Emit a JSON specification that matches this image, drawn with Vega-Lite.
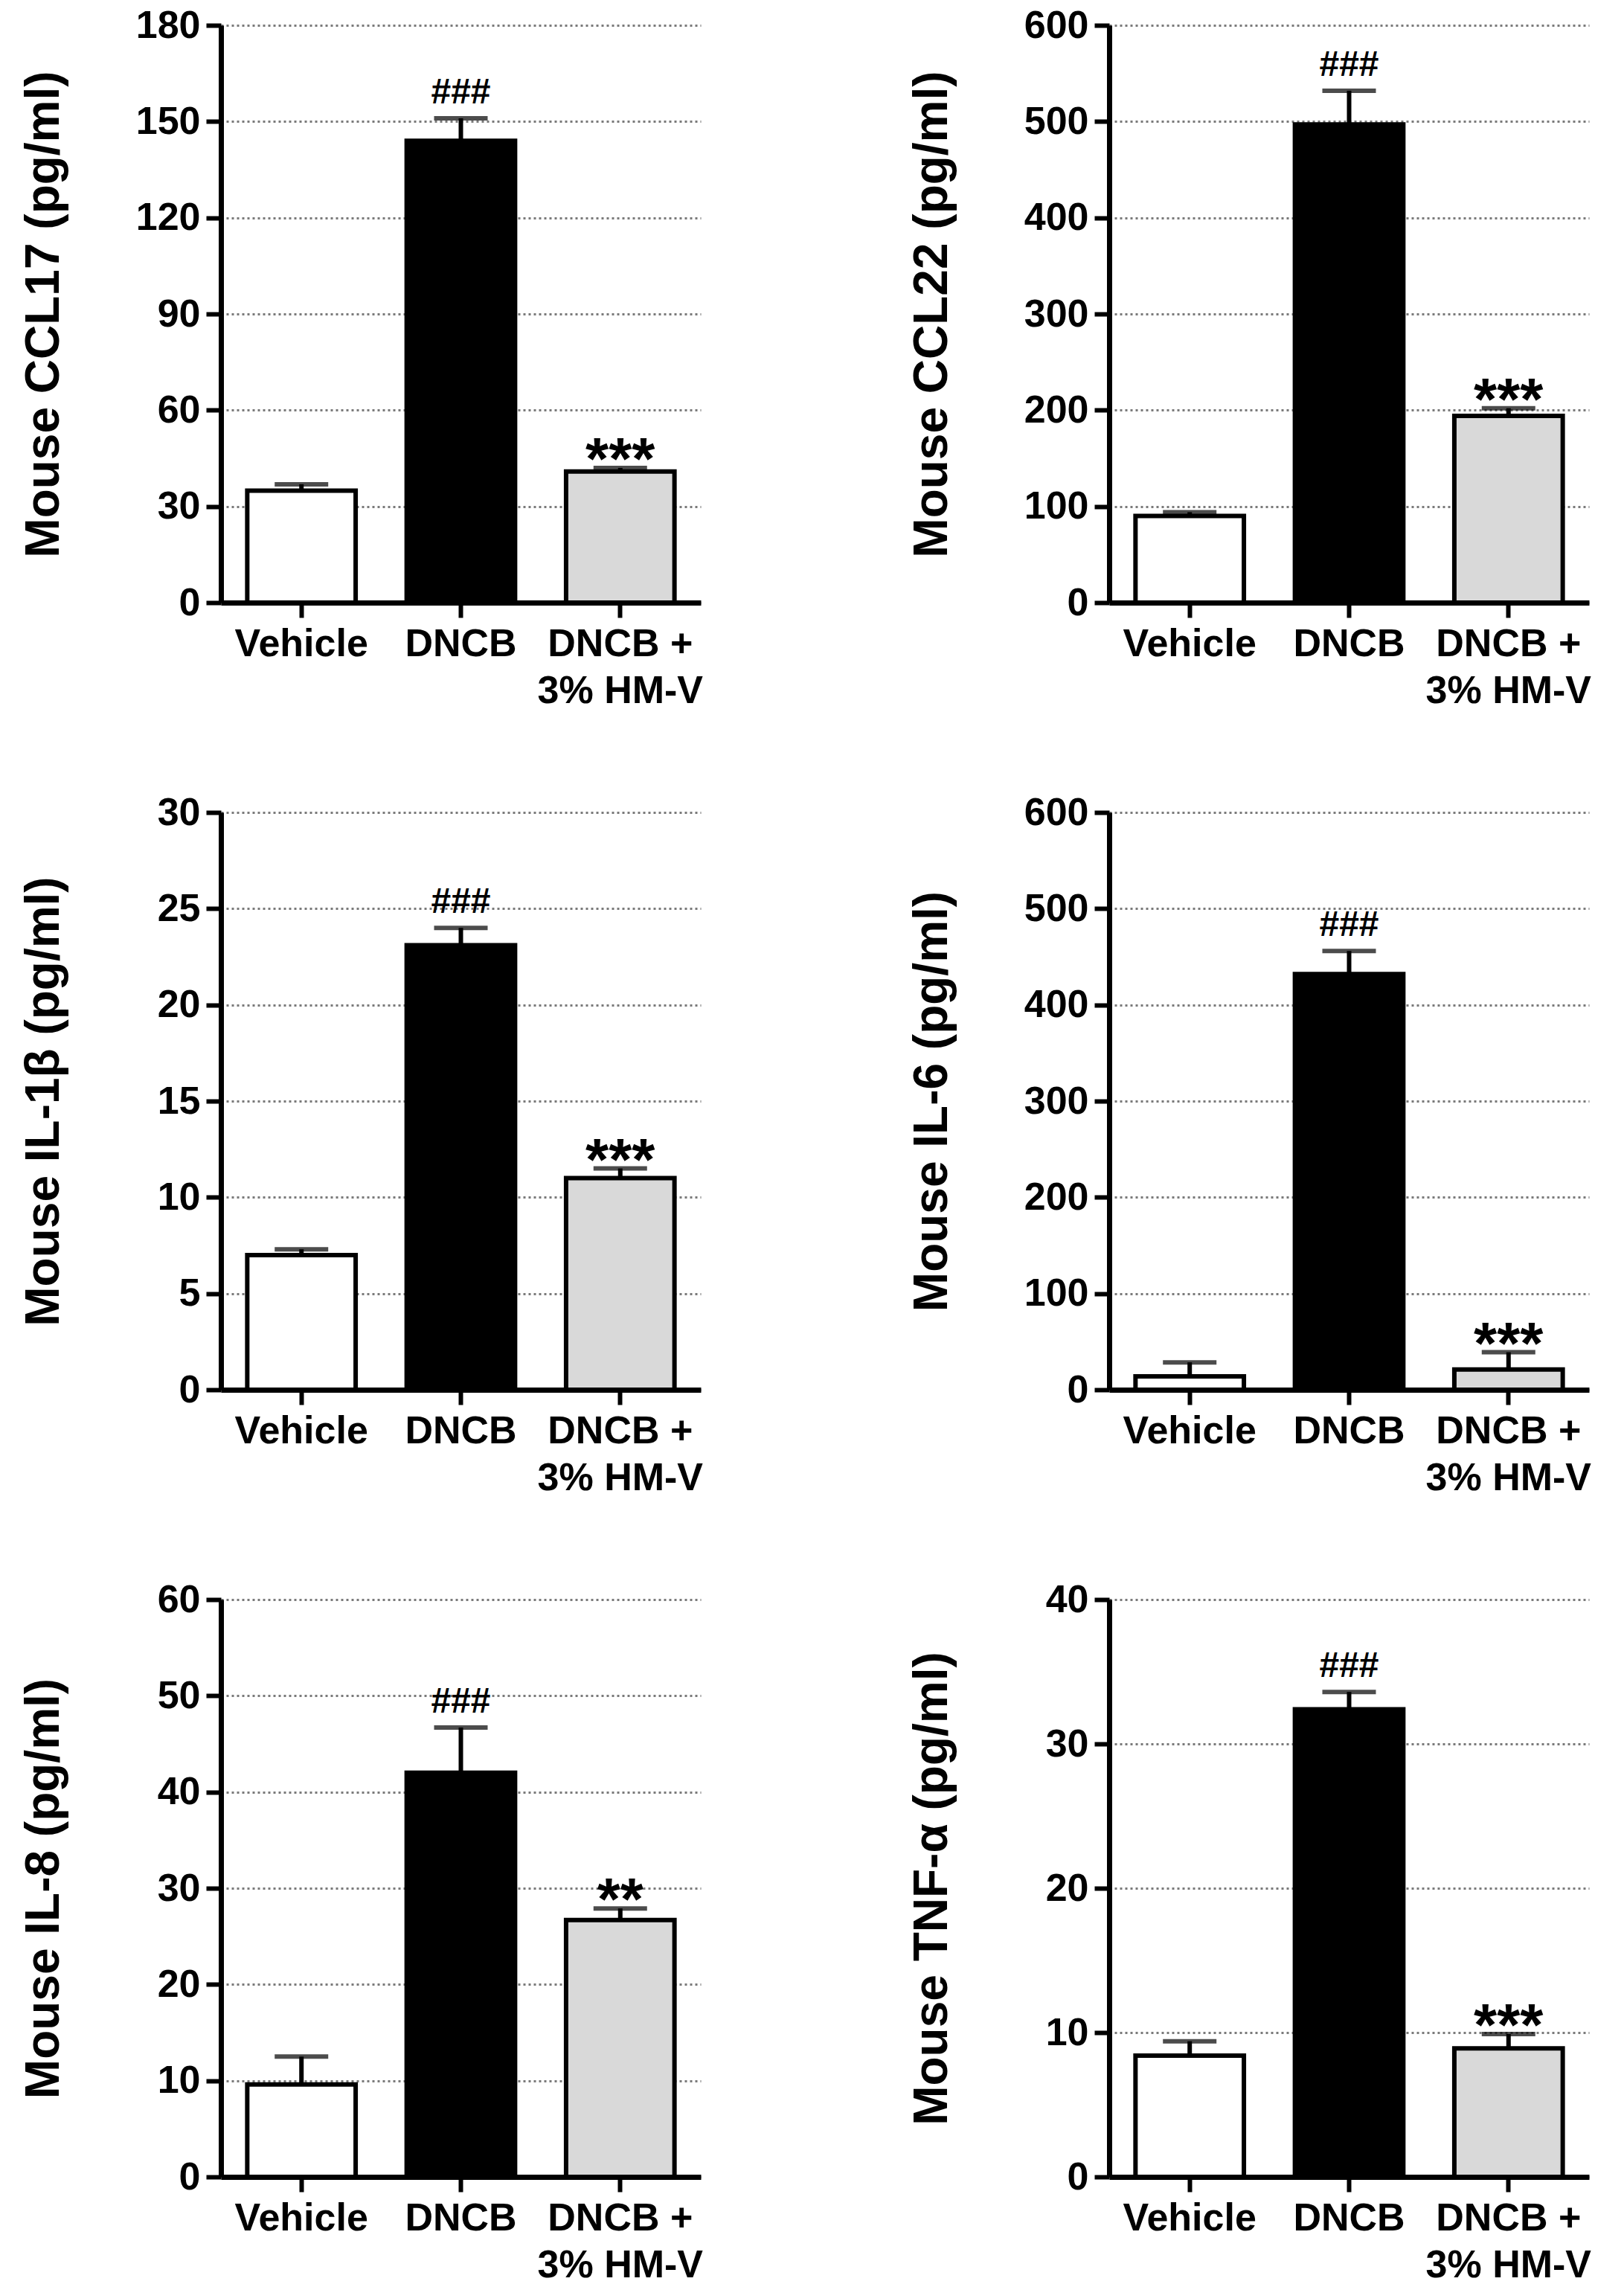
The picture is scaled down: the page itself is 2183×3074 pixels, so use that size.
{
  "$schema": "https://vega.github.io/schema/vega-lite/v6.json",
  "padding": {"left": 26, "top": 8, "right": 0, "bottom": 0},
  "background": "white",
  "config": {
    "font": "Liberation Sans",
    "view": {"stroke": null},
    "axis": {
      "domainColor": "black", "domainWidth": 7,
      "tickColor": "black", "tickWidth": 6, "tickSize": 20,
      "labelFont": "Liberation Sans", "labelFontWeight": "bold", "labelFontSize": 52, "labelColor": "black", "labelLimit": 0,
      "titleFont": "Liberation Sans", "titleFontWeight": "bold", "titleFontSize": 64, "titleColor": "black"
    },
    "axisY": {"grid": true, "gridColor": "#7a7a7a", "gridDash": [3, 4], "gridWidth": 3, "labelPadding": 8, "titleX": -206, "titleY": 388},
    "axisX": {"grid": false, "labelAngle": 0, "labelPadding": 10, "labelLineHeight": 63}
  },
  "datasets": {
    "cytokines": [
      {"panel": "CCL17", "group": "Vehicle", "mean": 34.9, "upper": 36.9, "sig": ""},
      {"panel": "CCL17", "group": "DNCB", "mean": 144, "upper": 151, "sig": "###"},
      {"panel": "CCL17", "group": "DNCB + 3% HM-V", "mean": 40.9, "upper": 42, "sig": "***"},
      {"panel": "CCL22", "group": "Vehicle", "mean": 90, "upper": 94, "sig": ""},
      {"panel": "CCL22", "group": "DNCB", "mean": 497, "upper": 532, "sig": "###"},
      {"panel": "CCL22", "group": "DNCB + 3% HM-V", "mean": 194, "upper": 202, "sig": "***"},
      {"panel": "IL-1b", "group": "Vehicle", "mean": 7.0, "upper": 7.3, "sig": ""},
      {"panel": "IL-1b", "group": "DNCB", "mean": 23.1, "upper": 24.0, "sig": "###"},
      {"panel": "IL-1b", "group": "DNCB + 3% HM-V", "mean": 11.0, "upper": 11.5, "sig": "***"},
      {"panel": "IL-6", "group": "Vehicle", "mean": 14, "upper": 28.5, "sig": ""},
      {"panel": "IL-6", "group": "DNCB", "mean": 432, "upper": 456, "sig": "###"},
      {"panel": "IL-6", "group": "DNCB + 3% HM-V", "mean": 21, "upper": 39, "sig": "***"},
      {"panel": "IL-8", "group": "Vehicle", "mean": 9.6, "upper": 12.5, "sig": ""},
      {"panel": "IL-8", "group": "DNCB", "mean": 42, "upper": 46.7, "sig": "###"},
      {"panel": "IL-8", "group": "DNCB + 3% HM-V", "mean": 26.7, "upper": 27.9, "sig": "**"},
      {"panel": "TNF-a", "group": "Vehicle", "mean": 8.4, "upper": 9.4, "sig": ""},
      {"panel": "TNF-a", "group": "DNCB", "mean": 32.4, "upper": 33.6, "sig": "###"},
      {"panel": "TNF-a", "group": "DNCB + 3% HM-V", "mean": 8.9, "upper": 9.9, "sig": "***"}
    ]
  },
  "data": {"name": "cytokines"},
  "columns": 2,
  "bounds": "flush",
  "spacing": {"row": 282, "column": 549},
  "concat": [
    {
      "width": 645, "height": 776,
      "transform": [{"filter": "datum.panel == 'CCL17'"}],
      "encoding": {
        "x": {"field": "group", "type": "nominal", "sort": ["Vehicle", "DNCB", "DNCB + 3% HM-V"], "title": null,
              "scale": {"paddingInner": 0.32, "paddingOuter": 0.165},
              "axis": {"labelExpr": "datum.label == 'DNCB + 3% HM-V' ? ['DNCB +', '3% HM-V'] : datum.label"}},
        "y": {"field": "mean", "type": "quantitative", "title": "Mouse CCL17 (pg/ml)",
              "scale": {"domain": [0, 180]}, "axis": {"values": [0, 30, 60, 90, 120, 150, 180]}}
      },
      "layer": [
        {"mark": {"type": "bar", "stroke": "black", "strokeWidth": 6},
         "encoding": {"fill": {"field": "group", "type": "nominal", "legend": null,
                               "scale": {"domain": ["Vehicle", "DNCB", "DNCB + 3% HM-V"], "range": ["white", "black", "#d9d9d9"]}}}},
        {"mark": {"type": "rule", "strokeWidth": 6, "color": "black"}, "encoding": {"y2": {"field": "upper"}}},
        {"mark": {"type": "tick", "size": 72, "thickness": 6, "color": "black"},
         "encoding": {"y": {"field": "upper", "type": "quantitative", "title": "Mouse CCL17 (pg/ml)"}}},
        {"transform": [{"filter": "datum.sig == '###'"}],
         "mark": {"type": "text", "fontSize": 48, "fontWeight": "bold", "baseline": "alphabetic", "dy": -20, "color": "black"},
         "encoding": {"y": {"field": "upper", "type": "quantitative", "title": "Mouse CCL17 (pg/ml)"}, "text": {"field": "sig"}}},
        {"transform": [{"filter": "datum.sig == '***' || datum.sig == '**'"}],
         "mark": {"type": "text", "fontSize": 80, "fontWeight": "bold", "baseline": "alphabetic", "dy": 15, "color": "black"},
         "encoding": {"y": {"field": "upper", "type": "quantitative", "title": "Mouse CCL17 (pg/ml)"}, "text": {"field": "sig"}}}
      ]
    },
    {
      "width": 645, "height": 776,
      "transform": [{"filter": "datum.panel == 'CCL22'"}],
      "encoding": {
        "x": {"field": "group", "type": "nominal", "sort": ["Vehicle", "DNCB", "DNCB + 3% HM-V"], "title": null,
              "scale": {"paddingInner": 0.32, "paddingOuter": 0.165},
              "axis": {"labelExpr": "datum.label == 'DNCB + 3% HM-V' ? ['DNCB +', '3% HM-V'] : datum.label"}},
        "y": {"field": "mean", "type": "quantitative", "title": "Mouse CCL22 (pg/ml)",
              "scale": {"domain": [0, 600]}, "axis": {"values": [0, 100, 200, 300, 400, 500, 600]}}
      },
      "layer": [
        {"mark": {"type": "bar", "stroke": "black", "strokeWidth": 6},
         "encoding": {"fill": {"field": "group", "type": "nominal", "legend": null,
                               "scale": {"domain": ["Vehicle", "DNCB", "DNCB + 3% HM-V"], "range": ["white", "black", "#d9d9d9"]}}}},
        {"mark": {"type": "rule", "strokeWidth": 6, "color": "black"}, "encoding": {"y2": {"field": "upper"}}},
        {"mark": {"type": "tick", "size": 72, "thickness": 6, "color": "black"},
         "encoding": {"y": {"field": "upper", "type": "quantitative", "title": "Mouse CCL22 (pg/ml)"}}},
        {"transform": [{"filter": "datum.sig == '###'"}],
         "mark": {"type": "text", "fontSize": 48, "fontWeight": "bold", "baseline": "alphabetic", "dy": -20, "color": "black"},
         "encoding": {"y": {"field": "upper", "type": "quantitative", "title": "Mouse CCL22 (pg/ml)"}, "text": {"field": "sig"}}},
        {"transform": [{"filter": "datum.sig == '***' || datum.sig == '**'"}],
         "mark": {"type": "text", "fontSize": 80, "fontWeight": "bold", "baseline": "alphabetic", "dy": 15, "color": "black"},
         "encoding": {"y": {"field": "upper", "type": "quantitative", "title": "Mouse CCL22 (pg/ml)"}, "text": {"field": "sig"}}}
      ]
    },
    {
      "width": 645, "height": 776,
      "transform": [{"filter": "datum.panel == 'IL-1b'"}],
      "encoding": {
        "x": {"field": "group", "type": "nominal", "sort": ["Vehicle", "DNCB", "DNCB + 3% HM-V"], "title": null,
              "scale": {"paddingInner": 0.32, "paddingOuter": 0.165},
              "axis": {"labelExpr": "datum.label == 'DNCB + 3% HM-V' ? ['DNCB +', '3% HM-V'] : datum.label"}},
        "y": {"field": "mean", "type": "quantitative", "title": "Mouse IL-1β (pg/ml)",
              "scale": {"domain": [0, 30]}, "axis": {"values": [0, 5, 10, 15, 20, 25, 30]}}
      },
      "layer": [
        {"mark": {"type": "bar", "stroke": "black", "strokeWidth": 6},
         "encoding": {"fill": {"field": "group", "type": "nominal", "legend": null,
                               "scale": {"domain": ["Vehicle", "DNCB", "DNCB + 3% HM-V"], "range": ["white", "black", "#d9d9d9"]}}}},
        {"mark": {"type": "rule", "strokeWidth": 6, "color": "black"}, "encoding": {"y2": {"field": "upper"}}},
        {"mark": {"type": "tick", "size": 72, "thickness": 6, "color": "black"},
         "encoding": {"y": {"field": "upper", "type": "quantitative", "title": "Mouse IL-1β (pg/ml)"}}},
        {"transform": [{"filter": "datum.sig == '###'"}],
         "mark": {"type": "text", "fontSize": 48, "fontWeight": "bold", "baseline": "alphabetic", "dy": -20, "color": "black"},
         "encoding": {"y": {"field": "upper", "type": "quantitative", "title": "Mouse IL-1β (pg/ml)"}, "text": {"field": "sig"}}},
        {"transform": [{"filter": "datum.sig == '***' || datum.sig == '**'"}],
         "mark": {"type": "text", "fontSize": 80, "fontWeight": "bold", "baseline": "alphabetic", "dy": 15, "color": "black"},
         "encoding": {"y": {"field": "upper", "type": "quantitative", "title": "Mouse IL-1β (pg/ml)"}, "text": {"field": "sig"}}}
      ]
    },
    {
      "width": 645, "height": 776,
      "transform": [{"filter": "datum.panel == 'IL-6'"}],
      "encoding": {
        "x": {"field": "group", "type": "nominal", "sort": ["Vehicle", "DNCB", "DNCB + 3% HM-V"], "title": null,
              "scale": {"paddingInner": 0.32, "paddingOuter": 0.165},
              "axis": {"labelExpr": "datum.label == 'DNCB + 3% HM-V' ? ['DNCB +', '3% HM-V'] : datum.label"}},
        "y": {"field": "mean", "type": "quantitative", "title": "Mouse IL-6 (pg/ml)",
              "scale": {"domain": [0, 600]}, "axis": {"values": [0, 100, 200, 300, 400, 500, 600]}}
      },
      "layer": [
        {"mark": {"type": "bar", "stroke": "black", "strokeWidth": 6},
         "encoding": {"fill": {"field": "group", "type": "nominal", "legend": null,
                               "scale": {"domain": ["Vehicle", "DNCB", "DNCB + 3% HM-V"], "range": ["white", "black", "#d9d9d9"]}}}},
        {"mark": {"type": "rule", "strokeWidth": 6, "color": "black"}, "encoding": {"y2": {"field": "upper"}}},
        {"mark": {"type": "tick", "size": 72, "thickness": 6, "color": "black"},
         "encoding": {"y": {"field": "upper", "type": "quantitative", "title": "Mouse IL-6 (pg/ml)"}}},
        {"transform": [{"filter": "datum.sig == '###'"}],
         "mark": {"type": "text", "fontSize": 48, "fontWeight": "bold", "baseline": "alphabetic", "dy": -20, "color": "black"},
         "encoding": {"y": {"field": "upper", "type": "quantitative", "title": "Mouse IL-6 (pg/ml)"}, "text": {"field": "sig"}}},
        {"transform": [{"filter": "datum.sig == '***' || datum.sig == '**'"}],
         "mark": {"type": "text", "fontSize": 80, "fontWeight": "bold", "baseline": "alphabetic", "dy": 15, "color": "black"},
         "encoding": {"y": {"field": "upper", "type": "quantitative", "title": "Mouse IL-6 (pg/ml)"}, "text": {"field": "sig"}}}
      ]
    },
    {
      "width": 645, "height": 776,
      "transform": [{"filter": "datum.panel == 'IL-8'"}],
      "encoding": {
        "x": {"field": "group", "type": "nominal", "sort": ["Vehicle", "DNCB", "DNCB + 3% HM-V"], "title": null,
              "scale": {"paddingInner": 0.32, "paddingOuter": 0.165},
              "axis": {"labelExpr": "datum.label == 'DNCB + 3% HM-V' ? ['DNCB +', '3% HM-V'] : datum.label"}},
        "y": {"field": "mean", "type": "quantitative", "title": "Mouse IL-8 (pg/ml)",
              "scale": {"domain": [0, 60]}, "axis": {"values": [0, 10, 20, 30, 40, 50, 60]}}
      },
      "layer": [
        {"mark": {"type": "bar", "stroke": "black", "strokeWidth": 6},
         "encoding": {"fill": {"field": "group", "type": "nominal", "legend": null,
                               "scale": {"domain": ["Vehicle", "DNCB", "DNCB + 3% HM-V"], "range": ["white", "black", "#d9d9d9"]}}}},
        {"mark": {"type": "rule", "strokeWidth": 6, "color": "black"}, "encoding": {"y2": {"field": "upper"}}},
        {"mark": {"type": "tick", "size": 72, "thickness": 6, "color": "black"},
         "encoding": {"y": {"field": "upper", "type": "quantitative", "title": "Mouse IL-8 (pg/ml)"}}},
        {"transform": [{"filter": "datum.sig == '###'"}],
         "mark": {"type": "text", "fontSize": 48, "fontWeight": "bold", "baseline": "alphabetic", "dy": -20, "color": "black"},
         "encoding": {"y": {"field": "upper", "type": "quantitative", "title": "Mouse IL-8 (pg/ml)"}, "text": {"field": "sig"}}},
        {"transform": [{"filter": "datum.sig == '***' || datum.sig == '**'"}],
         "mark": {"type": "text", "fontSize": 80, "fontWeight": "bold", "baseline": "alphabetic", "dy": 15, "color": "black"},
         "encoding": {"y": {"field": "upper", "type": "quantitative", "title": "Mouse IL-8 (pg/ml)"}, "text": {"field": "sig"}}}
      ]
    },
    {
      "width": 645, "height": 776,
      "transform": [{"filter": "datum.panel == 'TNF-a'"}],
      "encoding": {
        "x": {"field": "group", "type": "nominal", "sort": ["Vehicle", "DNCB", "DNCB + 3% HM-V"], "title": null,
              "scale": {"paddingInner": 0.32, "paddingOuter": 0.165},
              "axis": {"labelExpr": "datum.label == 'DNCB + 3% HM-V' ? ['DNCB +', '3% HM-V'] : datum.label"}},
        "y": {"field": "mean", "type": "quantitative", "title": "Mouse TNF-α (pg/ml)",
              "scale": {"domain": [0, 40]}, "axis": {"values": [0, 10, 20, 30, 40]}}
      },
      "layer": [
        {"mark": {"type": "bar", "stroke": "black", "strokeWidth": 6},
         "encoding": {"fill": {"field": "group", "type": "nominal", "legend": null,
                               "scale": {"domain": ["Vehicle", "DNCB", "DNCB + 3% HM-V"], "range": ["white", "black", "#d9d9d9"]}}}},
        {"mark": {"type": "rule", "strokeWidth": 6, "color": "black"}, "encoding": {"y2": {"field": "upper"}}},
        {"mark": {"type": "tick", "size": 72, "thickness": 6, "color": "black"},
         "encoding": {"y": {"field": "upper", "type": "quantitative", "title": "Mouse TNF-α (pg/ml)"}}},
        {"transform": [{"filter": "datum.sig == '###'"}],
         "mark": {"type": "text", "fontSize": 48, "fontWeight": "bold", "baseline": "alphabetic", "dy": -20, "color": "black"},
         "encoding": {"y": {"field": "upper", "type": "quantitative", "title": "Mouse TNF-α (pg/ml)"}, "text": {"field": "sig"}}},
        {"transform": [{"filter": "datum.sig == '***' || datum.sig == '**'"}],
         "mark": {"type": "text", "fontSize": 80, "fontWeight": "bold", "baseline": "alphabetic", "dy": 15, "color": "black"},
         "encoding": {"y": {"field": "upper", "type": "quantitative", "title": "Mouse TNF-α (pg/ml)"}, "text": {"field": "sig"}}}
      ]
    }
  ]
}
